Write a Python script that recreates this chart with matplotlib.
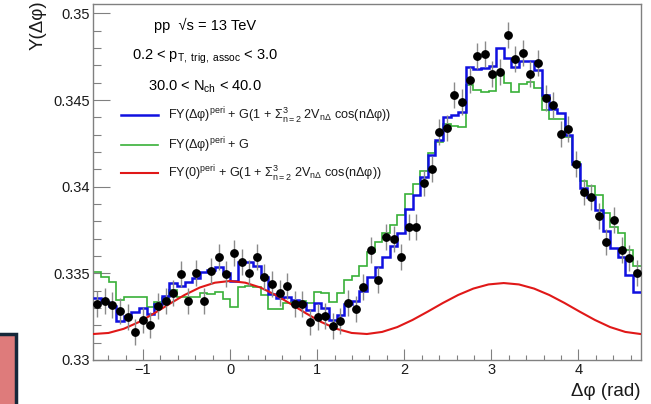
import numpy as np
import matplotlib
matplotlib.use("Agg")
import matplotlib.pyplot as plt
from matplotlib.patches import Rectangle
from matplotlib.lines import Line2D
from matplotlib.ticker import MultipleLocator, FuncFormatter

plt.rcParams['font.family'] = ['Liberation Sans', 'DejaVu Sans']
plt.rcParams['mathtext.fontset'] = 'custom'
plt.rcParams['mathtext.rm'] = 'Liberation Sans'
plt.rcParams['mathtext.it'] = 'Liberation Sans'
plt.rcParams['mathtext.bf'] = 'Liberation Sans:bold'

# ---------------- data ----------------
n_bins = 72
dphi_min, dphi_max = -np.pi / 2, 1.5 * np.pi

data_y = [0.33323, 0.33342, 0.33317, 0.33284, 0.33250, 0.33163, 0.33231, 0.33204, 0.33311, 0.33340,
          0.33385, 0.33494, 0.33340, 0.33503, 0.33340, 0.33511, 0.33594, 0.33498, 0.33615, 0.33565,
          0.33500, 0.33596, 0.33480, 0.33438, 0.33385, 0.33429, 0.33323, 0.33323, 0.33218, 0.33250,
          0.33255, 0.33198, 0.33227, 0.33330, 0.33294, 0.33419, 0.33634, 0.33461, 0.33708, 0.33696,
          0.33592, 0.33769, 0.33769, 0.34019, 0.34100, 0.34317, 0.34340, 0.34528, 0.34490, 0.34615,
          0.34753, 0.34763, 0.34653, 0.34663, 0.34874, 0.34736, 0.34769, 0.34653, 0.34711, 0.34509,
          0.34471, 0.34303, 0.34330, 0.34133, 0.33967, 0.33938, 0.33830, 0.33682, 0.33807, 0.33634,
          0.33590, 0.33500]

data_err = [0.00075] * n_bins

green_fit = [0.33506, 0.33477, 0.33450, 0.33346, 0.33362, 0.33363, 0.33365, 0.33306, 0.33336, 0.33356,
             0.33404, 0.33363, 0.33363, 0.33365, 0.33386, 0.33381, 0.33394, 0.33352, 0.33304, 0.33419,
             0.33427, 0.33419, 0.33375, 0.33297, 0.33297, 0.33326, 0.33336, 0.33343, 0.33330, 0.33394,
             0.33385, 0.33336, 0.33385, 0.33461, 0.33484, 0.33545, 0.33625, 0.33680, 0.33730, 0.33780,
             0.33836, 0.33957, 0.34013, 0.34092, 0.34196, 0.34259, 0.34361, 0.34350, 0.34347, 0.34586,
             0.34557, 0.34547, 0.34553, 0.34653, 0.34596, 0.34547, 0.34592, 0.34605, 0.34567, 0.34442,
             0.34388, 0.34388, 0.34288, 0.34144, 0.34031, 0.34003, 0.33952, 0.33849, 0.33769, 0.33731,
             0.33634, 0.33542]

blue_fit = [0.33357, 0.33332, 0.33314, 0.33223, 0.33256, 0.33277, 0.33302, 0.33267, 0.33323, 0.33369,
            0.33443, 0.33426, 0.33449, 0.33471, 0.33509, 0.33517, 0.33539, 0.33501, 0.33453, 0.33564,
            0.33563, 0.33542, 0.33481, 0.33383, 0.33360, 0.33365, 0.33349, 0.33330, 0.33291, 0.33331,
            0.33299, 0.33230, 0.33262, 0.33325, 0.33339, 0.33396, 0.33476, 0.33535, 0.33594, 0.33657,
            0.33730, 0.33871, 0.33950, 0.34053, 0.34183, 0.34272, 0.34400, 0.34413, 0.34433, 0.34692,
            0.34680, 0.34683, 0.34698, 0.34802, 0.34745, 0.34692, 0.34728, 0.34728, 0.34673, 0.34528,
            0.34451, 0.34427, 0.34301, 0.34131, 0.33992, 0.33940, 0.33866, 0.33743, 0.33646, 0.33595,
            0.33489, 0.33393]

red_x_deg = [-90, -80, -70, -60, -50, -40, -30, -20, -10, 0, 10, 20, 30, 40, 50, 60, 70, 80, 90,
             100, 110, 120, 130, 140, 150, 160, 170, 180, 190, 200, 210, 220, 230, 240, 250, 260, 270]
red_y = [0.33150, 0.33156, 0.33180, 0.33219, 0.33269, 0.33323, 0.33375, 0.33418, 0.33446, 0.33456,
         0.33446, 0.33418, 0.33375, 0.33323, 0.33269, 0.33219, 0.33180, 0.33156, 0.33150, 0.33162,
         0.33190, 0.33231, 0.33279, 0.33329, 0.33375, 0.33412, 0.33436, 0.33444, 0.33436, 0.33412,
         0.33375, 0.33329, 0.33279, 0.33231, 0.33190, 0.33162, 0.33150]

labels = [r"FY(Δφ)$^{\mathrm{peri}}$ + G(1 + $\Sigma^{3}_{n=2}$ 2V$_{n\Delta}$ cos(nΔφ))",
          r"FY(Δφ)$^{\mathrm{peri}}$ + G",
          r"FY(0)$^{\mathrm{peri}}$ + G(1 + $\Sigma^{3}_{n=2}$ 2V$_{n\Delta}$ cos(nΔφ))"]

# ---------------- figure ----------------
W, H = 651, 404
fig = plt.figure(figsize=(W / 100, H / 100), dpi=100)
ax = fig.add_axes([93.3 / W, 1 - 360 / H, (640.5 - 93.3) / W, (360 - 4) / H])

edges = np.linspace(dphi_min, dphi_max, n_bins + 1)
centers = 0.5 * (edges[:-1] + edges[1:])

c_blue = '#1010e0'
c_green = '#38b038'
c_red = '#e01818'

ax.stairs(green_fit, edges, color=c_green, lw=1.2, baseline=None, zorder=2)
ax.stairs(blue_fit, edges, color=c_blue, lw=1.8, baseline=None, zorder=3)
ax.plot(np.deg2rad(red_x_deg), red_y, color=c_red, lw=1.5, zorder=4)
ax.errorbar(centers, data_y, yerr=data_err, fmt='o', color='black', ms=5.3,
            ecolor='#8a8a8a', elinewidth=1.0, capsize=0, zorder=5)

ax.set_xlim(dphi_min, dphi_max)
ax.set_ylim(0.33, 0.35054)

frame_c = '#808080'
for s in ax.spines.values():
    s.set_color(frame_c)
    s.set_linewidth(1.0)

ax.xaxis.set_major_locator(MultipleLocator(1))
ax.xaxis.set_minor_locator(MultipleLocator(0.2))
ax.yaxis.set_major_locator(MultipleLocator(0.005))
ax.yaxis.set_minor_locator(MultipleLocator(0.001))
ax.yaxis.set_major_formatter(FuncFormatter(lambda v, p: f"{v:g}"))

ax.tick_params(axis='both', which='both', direction='in', color=frame_c, width=0.8,
               labelsize=10.5, labelcolor='#1a1a1a', top=False, right=False)
ax.tick_params(axis='x', which='major', length=7.7, pad=2.5)
ax.tick_params(axis='x', which='minor', length=3.7)
ax.tick_params(axis='y', which='major', length=12, pad=2.5)
ax.tick_params(axis='y', which='minor', length=5.5)

ax.set_xlabel("Δφ (rad)", fontsize=13.5, loc='right', color='#1a1a1a')
ax.xaxis.set_label_coords(1.0, -0.066)
ax.set_ylabel("Y(Δφ)", fontsize=13.5, loc='top', color='#1a1a1a')
ax.yaxis.set_label_coords(-0.086, 1.01)

tx = (205 - 93.3) / 547.2
ax.text(tx, 0.927, "pp  √s = 13 TeV", transform=ax.transAxes, ha='center', va='baseline', fontsize=10.5)
ax.text(tx, 0.843, r"0.2 < p$_{\mathrm{T,\ trig,\ assoc}}$ < 3.0", transform=ax.transAxes,
        ha='center', va='baseline', fontsize=10.5)
ax.text(tx, 0.758, r"30.0 < N$_{\mathrm{ch}}$ < 40.0", transform=ax.transAxes,
        ha='center', va='baseline', fontsize=10.5)

handles = [Line2D([], [], color=c_blue, lw=1.8),
           Line2D([], [], color=c_green, lw=1.2),
           Line2D([], [], color=c_red, lw=1.5)]
leg = ax.legend(handles, labels, loc='upper left',
                bbox_to_anchor=((121 - 93.3) / 547.2, (360 - 105.6) / 356),
                frameon=False, fontsize=9.1, handlelength=2.93, handletextpad=0.8,
                labelspacing=0.74, borderaxespad=0, borderpad=0)
for t in leg.get_texts():
    t.set_color('#1a1a1a')

# screenshot artifact in the bottom-left corner
fig.patches.append(Rectangle((-6 / W, -6 / H), 21.5 / W, 76 / H, transform=fig.transFigure,
                             facecolor='#de7b7b', edgecolor='#16283a', lw=2.5, zorder=10))

fig.savefig("out.png", dpi=100)
